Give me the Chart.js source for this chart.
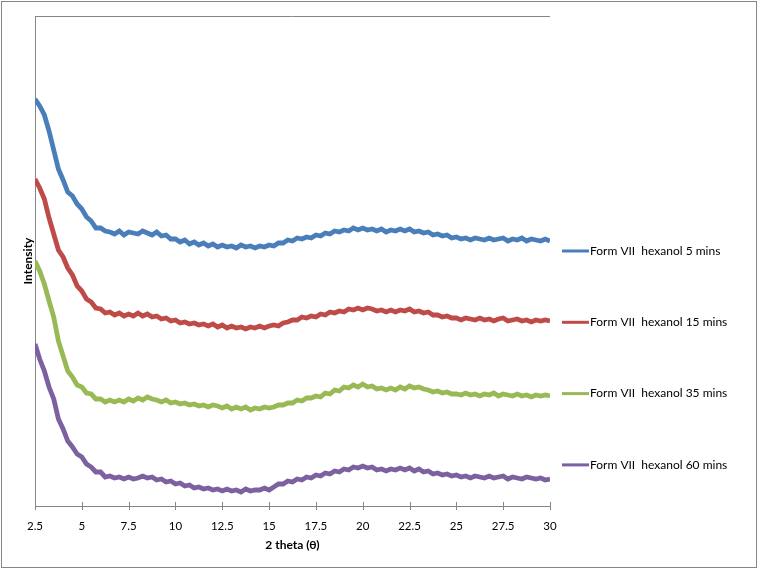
<!DOCTYPE html>
<html>
<head>
<meta charset="utf-8">
<script src="https://cdn.jsdelivr.net/npm/chart.js@4.4.0/dist/chart.umd.min.js"></script>
<style>
  html, body { margin: 0; padding: 0; background: #ffffff; }
  #wrap { width: 759px; height: 570px; position: relative; }
</style>
</head>
<body>
<div id="wrap"><canvas id="c" width="759" height="570"></canvas></div>
<script>
// 2 theta positions (degrees)
const theta = [2.5,2.75,3,3.25,3.5,3.75,4,4.25,4.5,4.75,5,5.25,5.5,5.75,6,6.25,6.5,6.75,7,7.25,7.5,7.75,8,8.25,8.5,8.75,9,9.25,9.5,9.75,10,10.25,10.5,10.75,11,11.25,11.5,11.75,12,12.25,12.5,12.75,13,13.25,13.5,13.75,14,14.25,14.5,14.75,15,15.25,15.5,15.75,16,16.25,16.5,16.75,17,17.25,17.5,17.75,18,18.25,18.5,18.75,19,19.25,19.5,19.75,20,20.25,20.5,20.75,21,21.25,21.5,21.75,22,22.25,22.5,22.75,23,23.25,23.5,23.75,24,24.25,24.5,24.75,25,25.25,25.5,25.75,26,26.25,26.5,26.75,27,27.25,27.5,27.75,28,28.25,28.5,28.75,29,29.25,29.5,29.75,30];

// Intensity (arbitrary units, offset patterns as plotted)
const min5 = [407,400,391,375,356,337,326,314,310,302,297,289,285,278,278,275,
274,272,275,271,274,273,272,275,273,271,274,
270,271,267,267,264,266,262,264,261,263,260,262,
259,261,259,260,258,261,259,260,258,260,259,261,
260,263,263,266,265,268,267,269,
268,271,270,273,272,275,274,276,275,278,276,278,276,
277,275,277,274,276,275,277,275,277,274,275,273,274,271,272,270,271,268,
269,267,268,266,268,267,266,268,266,267,268,265,267,266,268,265,267,266,265,267,265];

const min15 = [327,318,307,288,272,256,249,238,231,220,215,207,204,198,197,193,
194,191,193,190,192,190,193,190,192,189,190,
187,188,185,186,183,184,182,183,181,182,180,182,
179,181,178,180,178,179,177,179,178,180,178,180,
181,180,183,184,186,186,189,188,
190,189,192,191,194,193,195,194,197,196,198,196,198,
197,195,196,194,196,194,196,195,197,194,195,193,194,191,191,189,190,188,
188,186,188,187,186,188,186,187,185,187,188,185,186,187,185,186,184,186,185,186,185];

const min35 = [245,235,222,205,189,165,150,135,129,121,119,113,112,107,107,104,
106,104,106,104,107,105,108,106,109,107,106,
104,106,103,104,102,103,101,102,100,101,99,101,
100,98,100,97,99,97,99,96,98,97,99,98,
99,101,101,103,103,106,105,108,
108,110,109,113,112,116,115,119,118,121,119,122,119,
120,117,118,116,118,116,119,117,120,118,119,117,116,114,115,113,114,112,
112,111,113,111,112,110,112,111,113,110,112,111,110,112,110,111,109,111,110,111,110];

const min60 = [162,147,135,119,107,87,77,65,59,52,49,42,39,34,34,29,
30,28,29,27,29,27,28,30,28,29,26,
27,24,25,22,23,20,21,18,19,17,18,16,
17,15,17,15,16,14,17,15,16,16,18,16,
19,22,22,25,24,27,26,29,
28,31,30,33,32,35,34,37,36,39,38,40,38,
39,36,37,35,37,36,38,36,38,35,37,34,35,32,33,31,32,30,
31,29,30,28,30,29,28,30,28,29,30,27,29,28,27,29,28,27,28,26,27];

const seriesLabels = ['Form VII  hexanol 5 mins','Form VII  hexanol 15 mins','Form VII  hexanol 35 mins','Form VII  hexanol 60 mins'];
const seriesColors = ['#4A7EBB','#BE4B48','#98B954','#7D60A0'];
const xTicks = [2.5,5,7.5,10,12.5,15,17.5,20,22.5,25,27.5,30];

const seriesValues = [min5, min15, min35, min60];
const datasets = seriesValues.map((vals, i) => ({
  label: seriesLabels[i],
  data: vals.map((v, k) => ({x: theta[k], y: v})),
  borderColor: seriesColors[i],
  backgroundColor: seriesColors[i],
  borderWidth: 4.8,
  pointRadius: 0,
  tension: 0,
  fill: false,
  borderJoinStyle: 'miter'
}));

const AXIS = '#868686';
const FONT = 'Lato, "Open Sans", "Liberation Sans", sans-serif';

const decor = {
  id: 'decor',
  beforeDraw(chart) {
    const ctx = chart.ctx;
    ctx.save();
    ctx.fillStyle = '#ffffff';
    ctx.fillRect(0, 0, chart.width, chart.height);
    ctx.restore();
  },
  afterDraw(chart) {
    const ctx = chart.ctx;
    const a = chart.chartArea;
    const xs = chart.scales.x;
    ctx.save();
    // outer frame
    ctx.strokeStyle = AXIS;
    ctx.lineWidth = 1;
    ctx.strokeRect(1.5, 1.5, 755, 566);
    // top line of plot area
    ctx.beginPath();
    ctx.moveTo(a.left, Math.round(a.top) + 0.5);
    ctx.lineTo(a.right, Math.round(a.top) + 0.5);
    ctx.stroke();
    // crossing tick marks on x axis
    ctx.beginPath();
    xTicks.forEach(v => {
      const px = Math.round(xs.getPixelForValue(v)) + 0.5;
      ctx.moveTo(px, a.bottom - 4);
      ctx.lineTo(px, a.bottom + 4);
    });
    ctx.stroke();
    // y title
    ctx.fillStyle = '#000';
    ctx.font = 'bold 12px ' + FONT;
    ctx.textAlign = 'center';
    ctx.textBaseline = 'middle';
    ctx.translate(28, (a.top + a.bottom) / 2);
    ctx.rotate(-Math.PI / 2);
    ctx.fillText('Intensity', 0, 0);
    ctx.restore();
    // legend
    ctx.save();
    ctx.font = '12px ' + FONT;
    ctx.textBaseline = 'middle';
    ctx.textAlign = 'left';
    chart.data.datasets.forEach((ds, i) => {
      const y = 251 + i * 71.3;
      ctx.strokeStyle = ds.borderColor;
      ctx.lineWidth = 3;
      ctx.beginPath();
      ctx.moveTo(562, y);
      ctx.lineTo(589, y);
      ctx.stroke();
      ctx.fillStyle = '#000';
      ctx.fillText(ds.label, 590, y);
    });
    ctx.restore();
  }
};

new Chart(document.getElementById('c'), {
  type: 'line',
  data: { datasets },
  options: {
    responsive: false,
    animation: false,
    events: [],
    layout: { padding: { top: 16, right: 209, bottom: 0, left: 0 } },
    plugins: { legend: { display: false }, tooltip: { enabled: false } },
    scales: {
      x: {
        type: 'linear',
        min: 2.5, max: 30,
        afterBuildTicks: s => { s.ticks = xTicks.map(v => ({value: v})); },
        afterFit: s => { s.height = 64; },
        grid: { display: false, drawTicks: false },
        border: { display: true, color: AXIS, width: 1 },
        ticks: { padding: 13, color: '#000', font: { family: FONT, size: 11.5 }, maxRotation: 0, autoSkip: false },
        title: { display: true, text: '2 theta (θ)', color: '#000', font: { family: FONT, size: 12, weight: 'bold' }, padding: { top: 4, bottom: 18 } }
      },
      y: {
        type: 'linear',
        min: 0, max: 490,
        afterFit: s => { s.width = 35; },
        grid: { display: false, drawTicks: false },
        border: { display: true, color: AXIS, width: 1 },
        ticks: { display: false }
      }
    }
  },
  plugins: [decor]
});
</script>
</body>
</html>
